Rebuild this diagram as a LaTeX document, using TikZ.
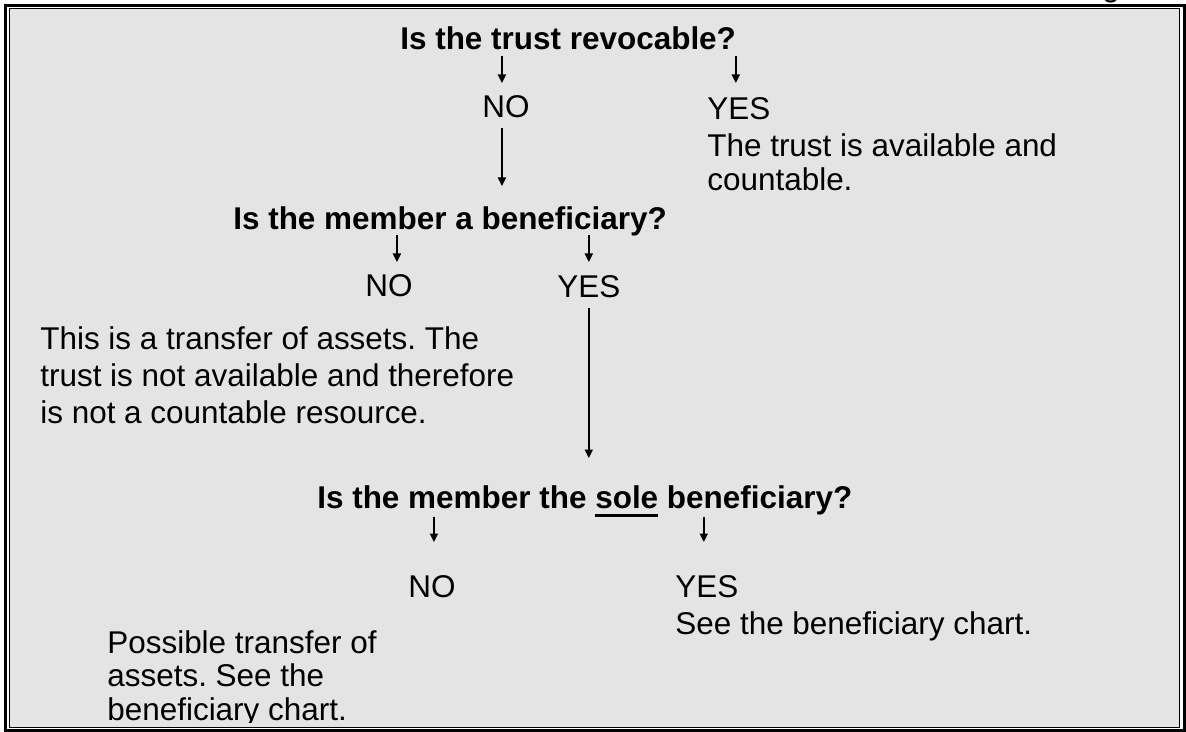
\documentclass[tikz,border=0pt]{standalone}
\usepackage{fontspec}
\setmainfont{Liberation Sans}
\usetikzlibrary{arrows.meta,calc}
\definecolor{panelgray}{HTML}{E4E4E4}
\frenchspacing
\newcommand{\ulword}[1]{\setbox0\hbox{#1}\rlap{\rule[-5.1pt]{\wd0}{1.5pt}}#1}
\tikzset{
  quest/.style={font=\bfseries\fontsize{17.9}{20.6}\selectfont, anchor=base west, inner sep=0pt},
  answer/.style={font=\fontsize{17.9}{20.6}\selectfont, anchor=base west, inner sep=0pt},
  remark/.style={answer, align=left},
  arr/.style={line width=0.95pt, -{Triangle[length=0.17cm,width=0.16cm]}}
}
\begin{document}
\begin{tikzpicture}
    \useasboundingbox (0,0) rectangle (23.72,-14.64);
    \node[answer,anchor=base] (cut) at (22.22,0.06) {g};
    % frame
    \draw[line width=1.6pt] (0.11,-0.106) rectangle (23.69,-14.614);
    \filldraw[fill=panelgray,line width=0.7pt] (0.19,-0.17) rectangle (23.59,-14.55);
    % first question
    \node[quest] (q1) at (8.00,-1.00) {Is the trust revocable?};
    \begin{scope}
      \clip (9,-1.6) rectangle (11,-2.37);
      \node[answer] (no1) at (9.64,-2.36) {NO};
    \end{scope}
    \node[answer] (yes1) at (14.14,-2.40) {YES};
    \node[remark,font=\fontsize{17.9}{19.9}\selectfont] (res1) at (14.14,-3.82) {The trust is available and\\countable.};
    \draw[arr] ($(no1.base |- q1.base)+(-0.08,-0.12)$) -- ($(no1.base)+(-0.08,0.70)$);
    \draw[arr] ($(yes1.base |- q1.base)+(-0.06,-0.12)$) -- ($(yes1.base)+(-0.06,0.74)$);
    % second question
    \node[quest] (q2) at (4.66,-4.60) {Is the member a beneficiary?};
    \draw[arr] ($(no1.base)+(-0.08,-0.20)$) -- ($(no1.base |- q2.base)+(-0.08,0.88)$);
    \node[answer] (no2) at (7.30,-5.94) {NO};
    \node[answer] (yes2) at (11.14,-5.96) {YES};
    \node[remark,font=\fontsize{17.9}{20.8}\selectfont] (res2) at (0.80,-8.46) {This is a transfer of assets. The\\trust is not available and therefore\\is not a countable resource.};
    \draw[arr] ($(no2.base |- q2.base)+(0.16,-0.10)$) -- ($(no2.base)+(0.16,0.70)$);
    \draw[arr] ($(yes2.base |- q2.base)+(0,-0.10)$) -- ($(yes2.base)+(0,0.72)$);
    % third question
    \node[quest] (q3) at (6.34,-10.16) {Is the member the \ulword{sole} beneficiary?};
    \draw[arr] ($(yes2.base)+(0,-0.20)$) -- ($(yes2.base |- q3.base)+(0,1.00)$);
    \node[answer] (no3) at (8.16,-11.94) {NO};
    \node[answer] (yes3) at (13.50,-11.94) {YES};
    \node[answer] (res3) at (13.50,-12.68) {See the beneficiary chart.};
    \begin{scope}
      \clip (1.5,-12.4) rectangle (8,-14.44);
      \node[remark,font=\fontsize{17.9}{19}\selectfont] (res4) at (2.14,-14.40) {Possible transfer of\\assets. See the\\beneficiary chart.};
    \end{scope}
    \draw[arr] ($(no3.base |- q3.base)+(0.04,-0.18)$) -- ($(no3.base)+(0.04,1.10)$);
    \draw[arr] ($(yes3.base |- q3.base)+(-0.06,-0.18)$) -- ($(yes3.base)+(-0.06,1.10)$);
\end{tikzpicture}
\end{document}
